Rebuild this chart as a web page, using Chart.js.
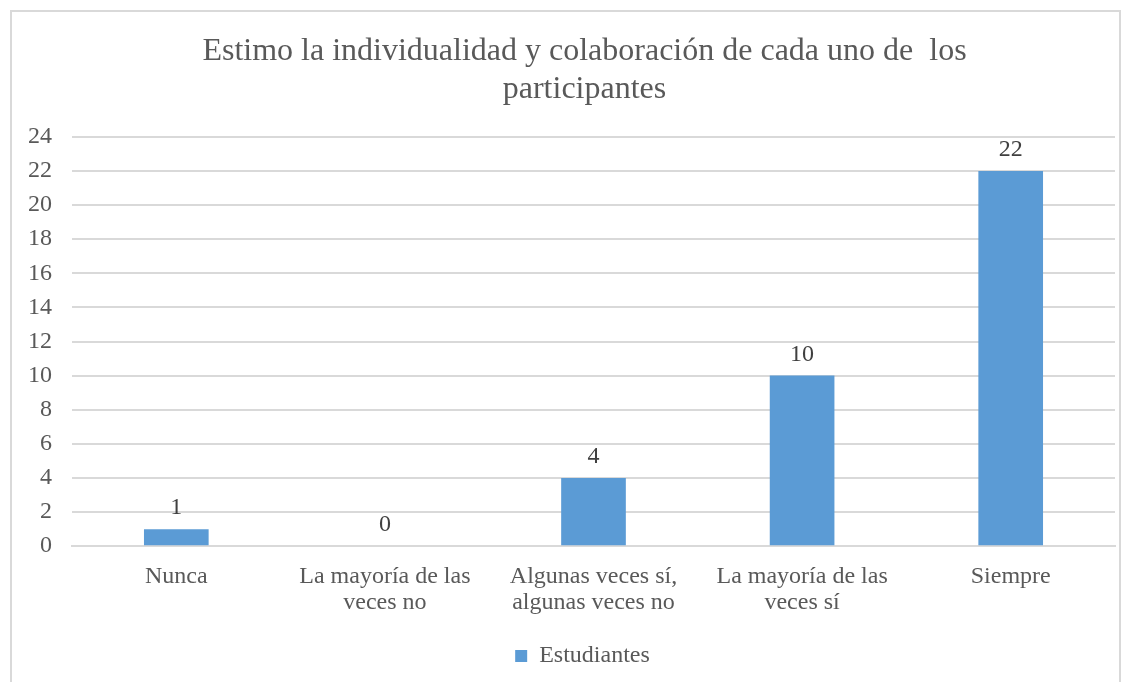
<!DOCTYPE html>
<html>
<head>
<meta charset="utf-8">
<script src="https://cdn.jsdelivr.net/npm/chart.js@4"></script>
<style>
  html, body { margin: 0; padding: 0; background: #fff; overflow: hidden; }
  #wrap { position: absolute; left: 10px; top: 10px; width: 1111px; height: 700px; border: 2px solid #d9d9d9; box-sizing: border-box; }
  #surveyChart { position: absolute; left: 0; top: 0; }
</style>
</head>
<body>
<div id="wrap"></div>
<canvas id="surveyChart" width="1131" height="682"></canvas>
<script>
const categories = [
    "Nunca",
    ["La mayoría de las", "veces no"],
    ["Algunas veces sí,", "algunas veces no"],
    ["La mayoría de las", "veces sí"],
    "Siempre"
];
const estudiantes = [1, 0, 4, 10, 22];
const titleLines = ["Estimo la individualidad y colaboración de cada uno de  los", "participantes"];

const serif = "'Liberation Serif', 'Times New Roman', serif";

// numbers above each bar
const barLabels = {
    id: "barLabels",
    afterDatasetsDraw(chart) {
        const ctx = chart.ctx;
        const meta = chart.getDatasetMeta(0);
        ctx.save();
        ctx.font = "24px " + serif;
        ctx.fillStyle = "#404040";
        ctx.textAlign = "center";
        ctx.textBaseline = "alphabetic";
        meta.data.forEach((bar, i) => {
            ctx.fillText(estudiantes[i], bar.x, bar.y - 15);
        });
        ctx.restore();
    }
};

// title and legend sit a bit right of the canvas centre in the original
const centreShift = {
    id: "centreShift",
    afterLayout(chart) {
        chart.titleBlock.left += 14;
        chart.titleBlock.right += 14;
        chart.legend.left += 12;
        chart.legend.right += 12;
    }
};

const surveyChart = new Chart(document.getElementById("surveyChart"), {
    type: "bar",
    data: {
        labels: categories,
        datasets: [{
            label: "Estudiantes",
            data: estudiantes,
            backgroundColor: "#5b9bd5",
            borderWidth: 0,
            categoryPercentage: 1,
            barPercentage: 0.31
        }]
    },
    options: {
        responsive: false,
        animation: false,
        devicePixelRatio: 1,
        layout: { padding: { left: 26, right: 16, top: 12, bottom: 4 } },
        plugins: {
            title: {
                display: true,
                text: titleLines,
                color: "#595959",
                font: { family: serif, size: 32, weight: "normal", lineHeight: 1.2 },
                padding: { top: 20, bottom: 28 }
            },
            legend: {
                position: "bottom",
                labels: {
                    color: "#595959",
                    font: { family: serif, size: 24 },
                    boxWidth: 12,
                    boxHeight: 12,
                    padding: 11
                }
            },
            tooltip: { enabled: false }
        },
        scales: {
            x: {
                grid: { display: false, drawTicks: false },
                border: { display: true, color: "#d9d9d9", width: 2 },
                ticks: { color: "#595959", font: { family: serif, size: 24, lineHeight: 1.1 }, padding: 17, maxRotation: 0, autoSkip: false }
            },
            y: {
                min: 0,
                max: 24,
                afterFit(scale) { scale.width = 46; },
                ticks: { stepSize: 2, color: "#595959", font: { family: serif, size: 24 }, padding: 20 },
                grid: { color: "#d9d9d9", lineWidth: 2, drawTicks: false },
                border: { display: false }
            }
        }
    },
    plugins: [barLabels, centreShift]
});
</script>
</body>
</html>
